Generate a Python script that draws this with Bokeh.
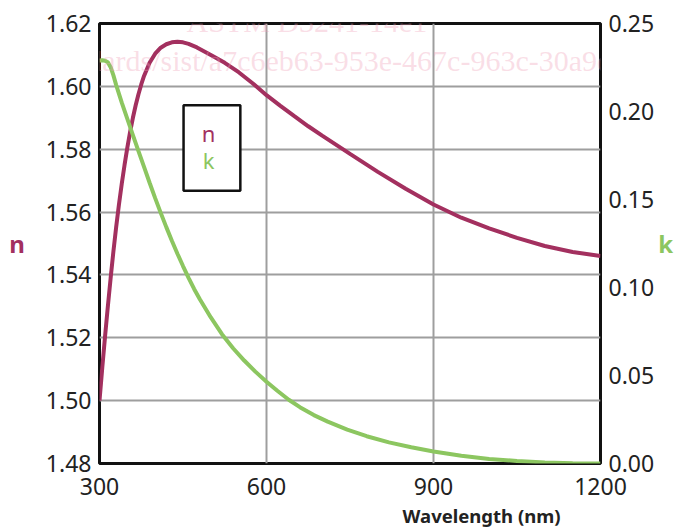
from bokeh.plotting import figure
from bokeh.models import Range1d, LinearAxis, BoxAnnotation, Label, Title, FixedTicker, NumeralTickFormatter
from bokeh.embed import file_html
from bokeh.resources import INLINE

# ---- data ----
wavelength_n = [300, 305, 310, 315, 320, 325, 330, 335, 340, 345, 350, 355, 360, 365, 370, 375,
                380, 390, 400, 410, 420, 430, 440, 450, 460, 475, 500, 525, 550, 575, 600, 625,
                650, 675, 700, 750, 800, 850, 900, 950, 1000, 1050, 1100, 1150, 1200]
n_values = [1.5000, 1.5105, 1.5205, 1.5300, 1.5390, 1.5475, 1.5553, 1.5625, 1.5690, 1.5750,
            1.5805, 1.5855, 1.5900, 1.5940, 1.5975, 1.6006, 1.6033, 1.6075, 1.6104, 1.6123,
            1.6134, 1.6140, 1.6142, 1.6140, 1.6135, 1.6124, 1.6100, 1.6075, 1.6045, 1.6010,
            1.5972, 1.5938, 1.5905, 1.5873, 1.5843, 1.5785, 1.5728, 1.5674, 1.5624, 1.5582,
            1.5548, 1.5518, 1.5492, 1.5473, 1.5460]

wavelength_k = [300, 305, 310, 315, 320, 325, 330, 340, 350, 360, 370, 380, 390, 400, 410, 420,
                430, 440, 450, 460, 470, 480, 500, 520, 540, 560, 580, 600, 620, 640, 660, 685,
                710, 745, 780, 820, 860, 900, 950, 1000, 1050, 1100, 1150, 1200]
k_values = [0.2290, 0.2291, 0.2288, 0.2280, 0.2252, 0.2205, 0.2150, 0.2050, 0.1958, 0.1866,
            0.1775, 0.1685, 0.1595, 0.1508, 0.1424, 0.1343, 0.1266, 0.1192, 0.1122, 0.1055,
            0.0992, 0.0935, 0.0830, 0.0735, 0.0655, 0.0585, 0.0522, 0.0465, 0.0412, 0.0362,
            0.0320, 0.0275, 0.0238, 0.0192, 0.0155, 0.0120, 0.0092, 0.0068, 0.0044, 0.0026,
            0.0014, 0.0006, 0.0002, 0.0000]

x_ticks = [300, 600, 900, 1200]
n_ticks = [1.48, 1.50, 1.52, 1.54, 1.56, 1.58, 1.60, 1.62]
k_ticks = [0.00, 0.05, 0.10, 0.15, 0.20, 0.25]

series_names = ["n", "k"]
x_title = "Wavelength (nm)"
watermark_lines = ["ASTM D3241-14e1", "og/standards/sist/a7c6eb63-953e-467c-963c-30a9def0a"]

N_COLOR = "#a3305f"
K_COLOR = "#8cc660"
FONT = "Noto Sans"

p = figure(width=679, height=531, output_backend="svg", toolbar_location=None,
           x_range=Range1d(300, 1200), y_range=Range1d(1.48, 1.62),
           min_border_left=99, min_border_right=79, min_border_top=23, min_border_bottom=66,
           background_fill_color="white", border_fill_color="white")
p.extra_y_ranges = {"k": Range1d(0.0, 0.25)}

p.outline_line_color = "#111111"
p.outline_line_width = 3

# axes
for ax in (p.xaxis[0], p.yaxis[0]):
    ax.axis_line_color = None
    ax.major_tick_line_color = None
    ax.minor_tick_line_color = None
    ax.major_tick_out = 0
    ax.major_tick_in = 0
    ax.minor_tick_out = 0
    ax.major_label_text_font = FONT
    ax.major_label_text_font_size = "23px"
    ax.major_label_text_color = "#222222"
    ax.major_label_standoff = 8

p.xaxis.major_label_standoff = 14
p.xaxis.ticker = FixedTicker(ticks=x_ticks)
p.yaxis.ticker = FixedTicker(ticks=n_ticks)
p.yaxis.formatter = NumeralTickFormatter(format="0.00")
p.yaxis.axis_label = series_names[0]
p.yaxis.axis_label_orientation = "horizontal"
p.yaxis.axis_label_text_font = FONT
p.yaxis.axis_label_text_font_size = "24px"
p.yaxis.axis_label_text_font_style = "bold"
p.yaxis.axis_label_text_color = N_COLOR
p.yaxis.axis_label_standoff = 18

k_axis = LinearAxis(y_range_name="k", ticker=FixedTicker(ticks=k_ticks),
                    formatter=NumeralTickFormatter(format="0.00"),
                    axis_label=series_names[1], axis_label_orientation="horizontal",
                    axis_label_text_font=FONT, axis_label_text_font_size="24px",
                    axis_label_text_font_style="bold", axis_label_text_color=K_COLOR,
                    axis_label_standoff=1,
                    axis_line_color=None, major_tick_line_color=None, minor_tick_line_color=None,
                    major_tick_out=0, major_tick_in=0, minor_tick_out=0,
                    major_label_text_font=FONT, major_label_text_font_size="23px",
                    major_label_text_color="#222222", major_label_standoff=8)
p.add_layout(k_axis, "right")

p.add_layout(Title(text=x_title, align="right", offset=40, text_font=FONT,
                   text_font_size="18.5px", text_font_style="bold", text_color="#222222",
                   standoff=7), "below")

# grid
p.xgrid.grid_line_color = "#9e9e9e"
p.xgrid.grid_line_width = 2
p.ygrid.grid_line_color = "#9e9e9e"
p.ygrid.grid_line_width = 2

# curves
p.line(wavelength_n, n_values, line_color=N_COLOR, line_width=4)
p.line(wavelength_k, k_values, line_color=K_COLOR, line_width=4, y_range_name="k")

# legend box with coloured text
p.add_layout(BoxAnnotation(left=451, right=553, top=1.594, bottom=1.5668,
                           fill_color="white", fill_alpha=1.0,
                           line_color="#111111", line_alpha=1.0, line_width=2.5))
p.add_layout(Label(x=496, y=1.5853, text=series_names[0], text_align="center",
                   text_baseline="alphabetic", text_font=FONT, text_font_size="22px",
                   text_color=N_COLOR))
p.add_layout(Label(x=496, y=1.5765, text=series_names[1], text_align="center",
                   text_baseline="alphabetic", text_font=FONT, text_font_size="22px",
                   text_color=K_COLOR))

# faint scan watermark (positioned on the canvas, not clipped to the frame)
p.add_layout(Label(x=186, y=21, x_units="canvas", y_units="canvas", text=watermark_lines[0],
                   text_font="Liberation Serif", text_font_size="30px", text_color="#f0a0b8",
                   text_alpha=0.35, text_baseline="alphabetic", level="overlay"))
p.add_layout(Label(x=0, y=60, x_units="canvas", y_units="canvas", text=watermark_lines[1],
                   text_font="Liberation Serif", text_font_size="30px", text_color="#f0a0b8",
                   text_alpha=0.35, text_baseline="alphabetic", level="overlay"))

open("out.html", "w").write(file_html(p, INLINE))
